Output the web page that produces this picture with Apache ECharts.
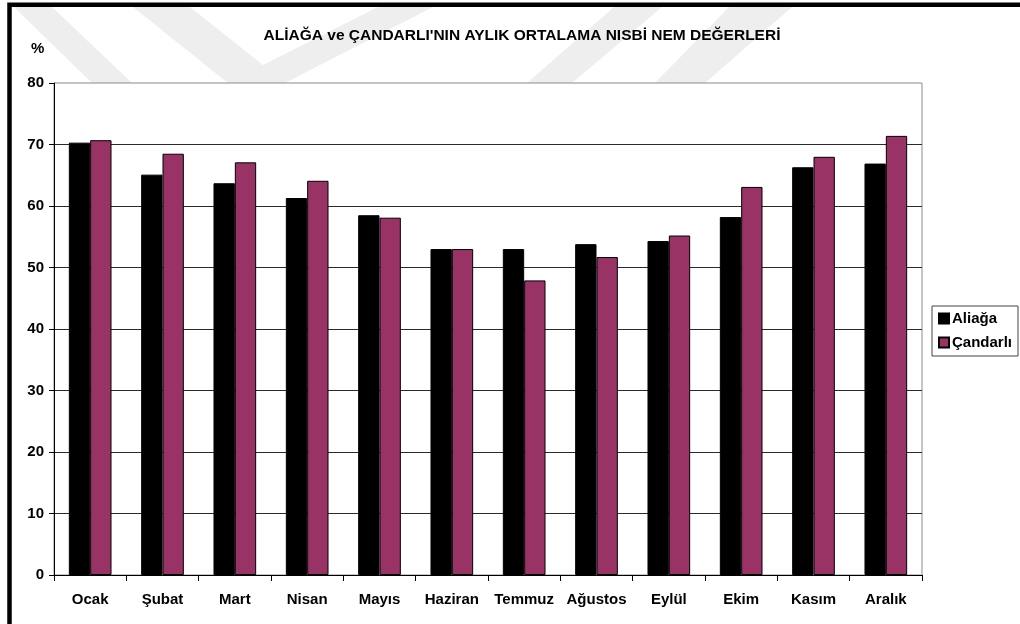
<!DOCTYPE html>
<html>
<head>
<meta charset="utf-8">
<script src="https://cdn.jsdelivr.net/npm/echarts@6/dist/echarts.min.js"></script>
<style>
  html, body { margin: 0; padding: 0; background: #fff; }
  #chart { width: 1020px; height: 624px; }
</style>
</head>
<body>
<div id="chart"></div>
<script>
// Monthly mean relative humidity (%) for Aliağa and Çandarlı
const months = ['Ocak', 'Şubat', 'Mart', 'Nisan', 'Mayıs', 'Haziran',
                'Temmuz', 'Ağustos', 'Eylül', 'Ekim', 'Kasım', 'Aralık'];
const aliaga   = [70.3, 65.1, 63.7, 61.3, 58.5, 53.0, 53.0, 53.8, 54.3, 58.2, 66.3, 66.9];
const candarli = [70.7, 68.5, 67.1, 64.1, 58.1, 53.0, 47.9, 51.7, 55.2, 63.1, 68.0, 71.4];
const seriesNames = ['Aliağa', 'Çandarlı'];
const yTicks = { min: 0, max: 80, step: 10 };
const titleText = "ALİAĞA ve ÇANDARLI'NIN AYLIK ORTALAMA NISBİ NEM DEĞERLERİ";
const unitText = '%';

const FONT = '"Liberation Sans", Arial, Helvetica, sans-serif';
const chart = echarts.init(document.getElementById('chart'), null, { renderer: 'canvas' });

// faint background chevrons above the plot area
const shade = '#eeeeee';
const chevrons = [
  [[14, 7], [52, 7], [132, 83], [92, 83]],
  [[133, 7], [190, 7], [263, 65], [378, 7], [433, 7], [285, 83], [228, 83]],
  [[527, 83], [572, 83], [662, 7], [614, 7]],
  [[655, 83], [705, 83], [792, 7], [729, 7]]
];

const barStyle = (color) => ({ color: color, borderColor: '#000', borderWidth: 1 });

chart.setOption({
  backgroundColor: '#fff',
  animation: false,
  title: {
    text: titleText,
    left: 517, top: 23, textAlign: 'center',
    textStyle: { fontFamily: FONT, fontSize: 15.5, fontWeight: 'bold', color: '#000' }
  },
  graphic: [
    ...chevrons.map(pts => ({
      type: 'polygon', z: -5, silent: true,
      shape: { points: pts },
      style: { fill: shade }
    })),
    {
      type: 'text', left: 31, top: 41,
      style: { text: unitText, font: 'bold 15px ' + FONT, fill: '#000' }
    },
    {
      type: 'rect', z: 100, silent: true,
      shape: { x: 9.5, y: 4.7, width: 1200, height: 1000 },
      style: { fill: 'none', stroke: '#000', lineWidth: 4.5 }
    }
  ],
  legend: {
    orient: 'vertical',
    left: 932, top: 306,
    padding: [5, 6, 6, 6],
    itemGap: 9,
    itemWidth: 10, itemHeight: 10,
    borderColor: '#444', borderWidth: 1,
    backgroundColor: '#fff',
    icon: 'rect',
    textStyle: { fontFamily: FONT, fontSize: 15, fontWeight: 'bold', color: '#000', padding: [0, 0, 0, -2] },
    data: seriesNames
  },
  grid: {
    left: 54, right: 98, top: 83, bottom: 49,
    show: true, backgroundColor: '#fff', borderColor: '#8a8a8a', borderWidth: 1,
    containLabel: false
  },
  xAxis: {
    type: 'category',
    data: months,
    boundaryGap: true,
    axisLine: { lineStyle: { color: '#000', width: 1 } },
    axisTick: { show: true, length: 6, interval: 0, alignWithLabel: false, lineStyle: { color: '#000' } },
    axisLabel: { interval: 0, margin: 17, fontFamily: FONT, fontSize: 15, fontWeight: 'bold', color: '#000' },
    splitLine: { show: false }
  },
  yAxis: {
    type: 'value',
    min: yTicks.min, max: yTicks.max, interval: yTicks.step,
    axisLine: { show: true, lineStyle: { color: '#000', width: 1 } },
    axisTick: { show: true, length: 5, lineStyle: { color: '#000' } },
    axisLabel: { margin: 10, fontFamily: FONT, fontSize: 15, fontWeight: 'bold', color: '#000' },
    splitLine: { show: true, showMinLine: false, showMaxLine: false, lineStyle: { color: '#2a2a2a', width: 1 } }
  },
  series: [
    {
      name: seriesNames[0], type: 'bar', data: aliaga,
      barGap: '0%', barCategoryGap: '41%',
      itemStyle: barStyle('#000000')
    },
    {
      name: seriesNames[1], type: 'bar', data: candarli,
      barGap: '0%', barCategoryGap: '41%',
      itemStyle: barStyle('#993366')
    }
  ]
});
</script>
</body>
</html>
